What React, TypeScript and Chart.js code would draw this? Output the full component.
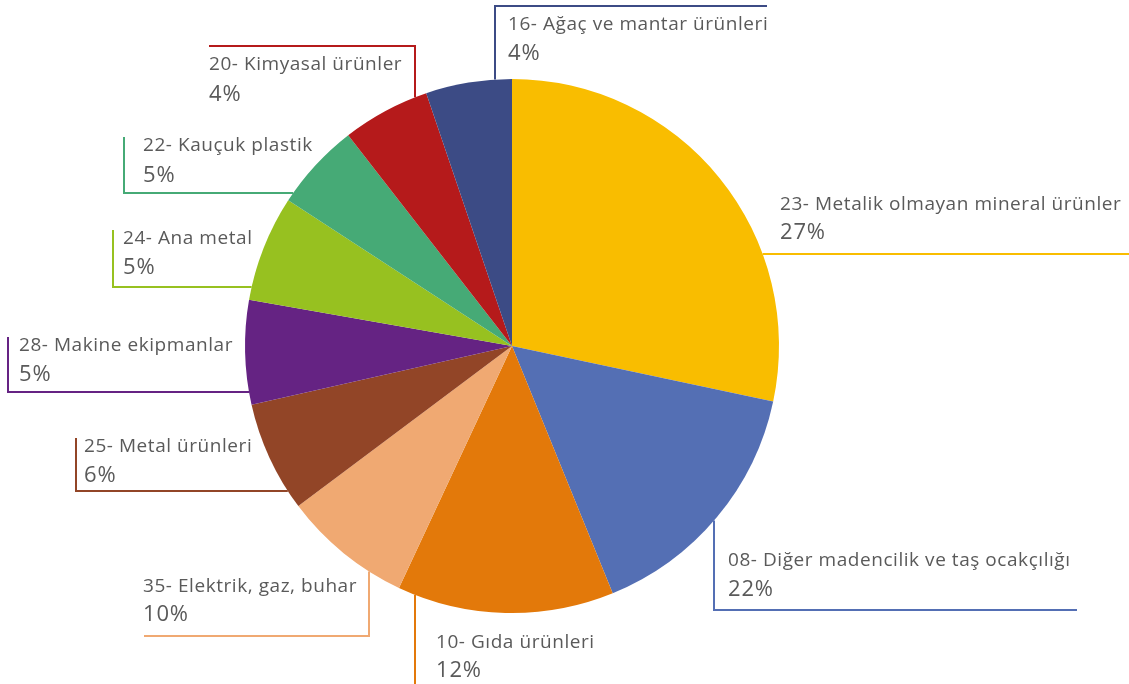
import React, { useEffect, useRef } from "react";
import { Chart, registerables } from "chart.js";

Chart.register(...registerables);

const categories = [
  "23- Metalik olmayan mineral ürünler",
  "08- Diğer madencilik ve taş ocakçılığı",
  "10- Gıda ürünleri",
  "35- Elektrik, gaz, buhar",
  "25- Metal ürünleri",
  "28- Makine ekipmanlar",
  "24- Ana metal",
  "22- Kauçuk plastik",
  "20- Kimyasal ürünler",
  "16- Ağaç ve mantar ürünleri",
];
const sliceValues = [28.3, 15.5, 13.1, 7.8, 6.7, 6.3, 6.4, 5.3, 5.3, 5.2];
const percentLabels = ["27%", "22%", "12%", "10%", "6%", "5%", "5%", "5%", "4%", "4%"];
const sliceColors = [
  "#F9BD00",
  "#546FB4",
  "#E3790A",
  "#F0A972",
  "#924527",
  "#652383",
  "#97C120",
  "#46AA76",
  "#B51A1B",
  "#3C4B85",
];

// Label placement (layout only): text anchor, percent baseline, leader polyline (outer part),
// and the direction ('h' or 'v') in which the leader continues to meet the pie edge.
type Layout = { tx: number; ty: number; py: number; pts: number[][]; dir: "h" | "v" };
const labelLayout: Layout[] = [
  { tx: 780, ty: 210, py: 239, pts: [[1129, 254]], dir: "h" },
  { tx: 728, ty: 566, py: 596, pts: [[1077, 610], [714, 610]], dir: "v" },
  { tx: 436, ty: 648, py: 677, pts: [[415, 690]], dir: "v" },
  { tx: 143, ty: 592, py: 621, pts: [[144, 636], [369, 636]], dir: "v" },
  { tx: 84, ty: 452, py: 482, pts: [[76, 438], [76, 491]], dir: "h" },
  { tx: 19, ty: 351, py: 381, pts: [[8, 337], [8, 392]], dir: "h" },
  { tx: 123, ty: 244, py: 274, pts: [[113, 230], [113, 287]], dir: "h" },
  { tx: 143, ty: 151, py: 182, pts: [[124, 137], [124, 193]], dir: "h" },
  { tx: 209, ty: 70, py: 101, pts: [[209, 46], [415, 46]], dir: "v" },
  { tx: 508, ty: 30, py: 60, pts: [[767, 6], [495, 6]], dir: "v" },
];

const labelPlugin = {
  id: "leaderLabels",
  afterDraw(chart: any) {
    const ctx = chart.ctx;
    const meta = chart.getDatasetMeta(0);
    const arc0 = meta.data[0];
    const cx = arc0.x;
    const cy = arc0.y;
    const r = arc0.outerRadius;
    ctx.save();
    labelLayout.forEach((lay, i) => {
      const last = lay.pts[lay.pts.length - 1];
      let end: number[];
      if (lay.dir === "v") {
        const dx = last[0] - cx;
        const h = Math.sqrt(Math.max(0, r * r - dx * dx));
        end = [last[0], last[1] < cy ? cy - h : cy + h];
      } else {
        const dy = last[1] - cy;
        const w = Math.sqrt(Math.max(0, r * r - dy * dy));
        end = [last[0] < cx ? cx - w : cx + w, last[1]];
      }
      ctx.beginPath();
      ctx.strokeStyle = sliceColors[i];
      ctx.lineWidth = 2;
      ctx.moveTo(lay.pts[0][0], lay.pts[0][1]);
      for (let k = 1; k < lay.pts.length; k++) ctx.lineTo(lay.pts[k][0], lay.pts[k][1]);
      ctx.lineTo(end[0], end[1]);
      ctx.stroke();

      ctx.fillStyle = "#5a5a5a";
      ctx.textAlign = "left";
      ctx.textBaseline = "alphabetic";
      ctx.font = "19px 'Open Sans'";
      ctx.letterSpacing = "0.55px";
      ctx.fillText(categories[i], lay.tx, lay.ty);
      ctx.font = "22px 'Open Sans'";
      ctx.letterSpacing = "0.8px";
      ctx.fillText(percentLabels[i], lay.tx, lay.py);
      ctx.letterSpacing = "0px";
    });
    ctx.restore();
  },
};

export default function App() {
  const ref = useRef<HTMLCanvasElement | null>(null);
  useEffect(() => {
    if (!ref.current) return;
    const chart = new Chart(ref.current, {
      type: "pie",
      data: {
        labels: categories,
        datasets: [
          {
            data: sliceValues,
            backgroundColor: sliceColors,
            borderWidth: 0,
          },
        ],
      },
      options: {
        responsive: false,
        animation: false,
        layout: { padding: { left: 245, right: 350, top: 79, bottom: 71 } },
        plugins: { legend: { display: false }, tooltip: { enabled: false } },
      },
      plugins: [labelPlugin],
    });
    return () => chart.destroy();
  }, []);
  return (
    <div style={{ position: "fixed", left: 0, top: 0, width: 1129, height: 684, background: "#fff" }}>
      <canvas ref={ref} width={1129} height={684} />
    </div>
  );
}
